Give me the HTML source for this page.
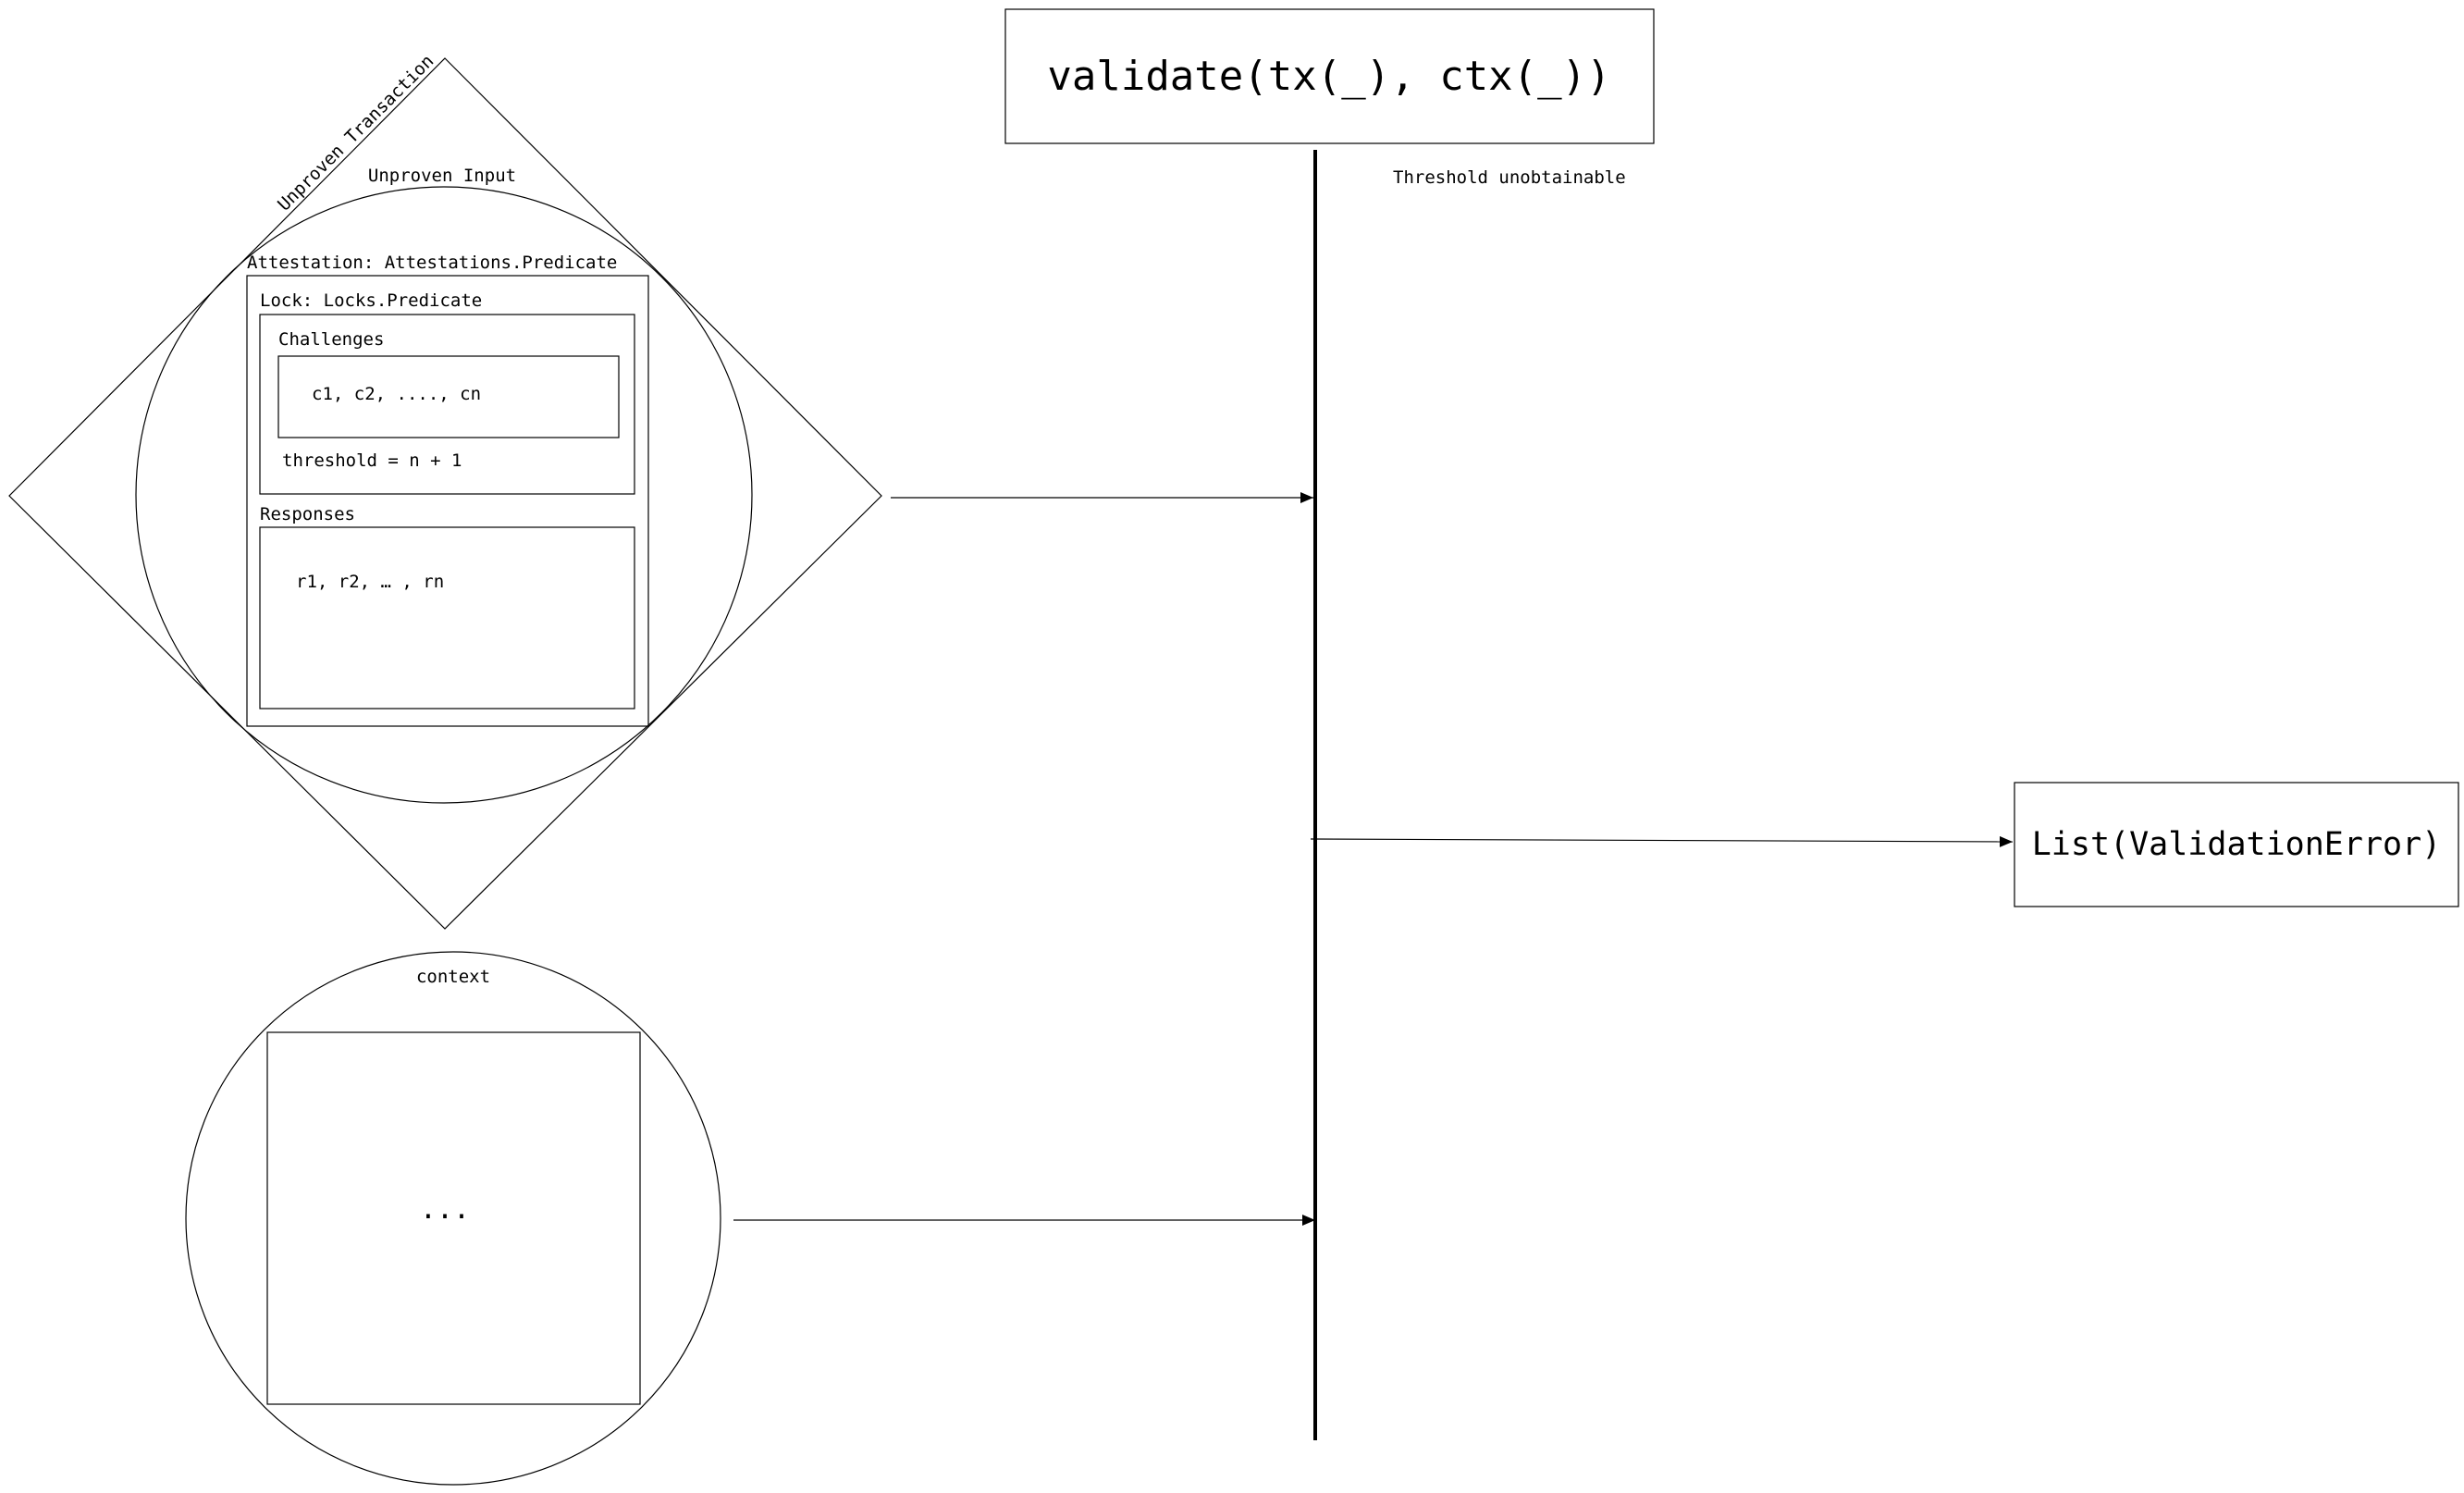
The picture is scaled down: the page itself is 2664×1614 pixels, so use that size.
<!DOCTYPE html>
<html><head><meta charset="utf-8"><style>
html,body{margin:0;padding:0;background:#fff}
svg{display:block}
text{font-family:"DejaVu Sans Mono","Liberation Mono",monospace;fill:#000}
</style></head><body>
<svg width="2664" height="1614" viewBox="0 0 2664 1614" xmlns="http://www.w3.org/2000/svg">
<defs><marker id="a" markerWidth="14" markerHeight="12" refX="14" refY="6" orient="auto" markerUnits="userSpaceOnUse"><path d="M0,0 L14,6 L0,12 z" fill="#000"/></marker></defs>
<g fill="none" stroke="#000" stroke-width="1.2">
<polygon points="481,63 953,536 481,1004 10,536"/>
<circle cx="480" cy="535" r="333"/>
<rect x="267" y="298" width="434" height="487"/>
<rect x="281" y="340" width="405" height="194"/>
<rect x="301" y="385" width="368" height="88"/>
<rect x="281" y="570" width="405" height="196"/>
<rect x="1087" y="10" width="701" height="145"/>
<rect x="2178" y="846" width="480" height="134"/>
<ellipse cx="490" cy="1317" rx="289" ry="288"/>
<rect x="289" y="1116" width="403" height="402"/>
<line x1="963" y1="538" x2="1420" y2="538" marker-end="url(#a)"/>
<line x1="1417" y1="907" x2="2176" y2="910" marker-end="url(#a)"/>
<line x1="793" y1="1319" x2="1422" y2="1319" marker-end="url(#a)"/>
</g>
<line x1="1422" y1="162" x2="1422" y2="1557" stroke="#000" stroke-width="4"/>
<g font-size="19">
<text x="384" y="150" text-anchor="middle" transform="rotate(-45 384 143)">Unproven Transaction</text>
<text x="478" y="196" text-anchor="middle">Unproven Input</text>
<text x="267" y="290">Attestation: Attestations.Predicate</text>
<text x="281" y="331">Lock: Locks.Predicate</text>
<text x="301" y="373">Challenges</text>
<text x="337" y="432">c1, c2, ...., cn</text>
<text x="305" y="504">threshold = n + 1</text>
<text x="281" y="562">Responses</text>
<text x="320" y="635">r1, r2,  … , rn</text>
<text x="490" y="1062" text-anchor="middle">context</text>
<text x="1506" y="198">Threshold unobtainable</text>
</g>
<text x="481" y="1317" font-size="30" text-anchor="middle">...</text>
<text x="1437" y="97" font-size="44" text-anchor="middle">validate(tx(_), ctx(_))</text>
<text x="2418" y="924" font-size="35" text-anchor="middle">List(ValidationError)</text>
</svg>
</body></html>
